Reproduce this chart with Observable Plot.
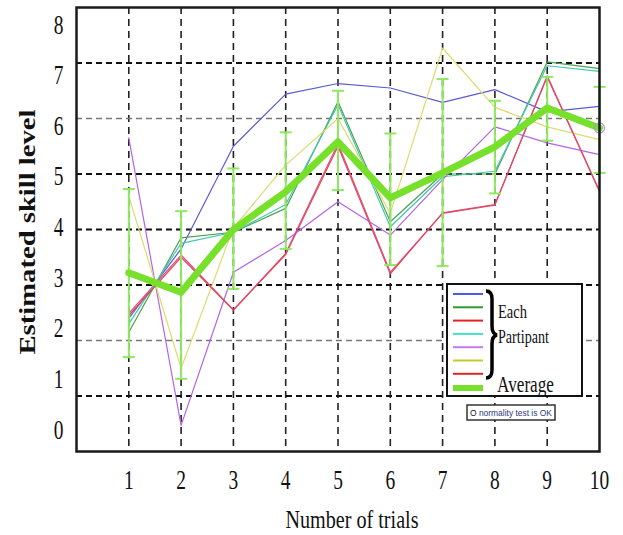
<!DOCTYPE html>
<html><head><meta charset="utf-8">
<script src="https://cdn.jsdelivr.net/npm/d3@7"></script>
<script src="https://cdn.jsdelivr.net/npm/@observablehq/plot@0.6"></script>
<style>
body{margin:0;background:#fff}
svg{font-family:"Liberation Serif","Times New Roman",serif}
</style>
</head><body><div id="chart"></div>
<script>
// ---- data ----
const trials = [1, 2, 3, 4, 5, 6, 7, 8, 9, 10];
const xTicks = [1, 2, 3, 4, 5, 6, 7, 8, 9, 10];
const yTicks = [0, 1, 2, 3, 4, 5, 6, 7, 8];
const xGrid = [1, 2, 3, 4, 5, 6, 7, 8, 9];
const yGridMajor = [1, 3, 4, 5, 7];
const yGridMinor = [2, 6];

const p1Blue   = [2.40, 3.65, 5.50, 6.44, 6.63, 6.55, 6.29, 6.52, 6.12, 6.22];
const p2Green  = [2.15, 3.85, 3.95, 4.38, 6.30, 4.14, 5.00, 5.00, 7.02, 6.90];
const p3Red    = [2.49, 3.54, 2.55, 3.57, 5.55, 3.23, 4.29, 4.44, 6.77, 4.68];
const p4Cyan   = [2.30, 3.75, 3.95, 4.45, 6.25, 4.05, 4.95, 5.05, 6.95, 6.85];
const p5Violet = [5.65, 0.47, 3.23, 3.80, 4.50, 3.90, 4.90, 5.85, 5.56, 5.35];
const p6Yellow = [4.60, 1.50, 4.03, 5.16, 6.00, 4.29, 7.27, 6.20, 5.85, 5.62];
const p7Red    = [2.45, 3.50, 2.55, 3.55, 5.50, 3.20, 4.30, 4.45, 6.75, 4.70];

const average = [3.22, 2.87, 4.00, 4.68, 5.58, 4.57, 5.02, 5.49, 6.19, 5.83];
const errLo   = [1.70, 1.31, 2.93, 3.65, 4.71, 3.36, 3.34, 4.65, 5.60, 5.02];
const errHi   = [4.73, 4.33, 5.10, 5.75, 6.50, 5.73, 6.71, 6.32, 6.75, 6.57];

const seriesNames  = ["P1", "P2", "P3", "P4", "P5", "P6", "P7"];
const seriesValues = [p1Blue, p2Green, p3Red, p4Cyan, p5Violet, p6Yellow, p7Red];
const lineColors   = ["#5b5bd6", "#4f9f4f", "#e0507a", "#40c8b0", "#b464e6", "#dcdc6e", "#e04860"];
const legendColors = ["#4b5de6", "#2f9a2f", "#e42424", "#45e0c8", "#c77ae8", "#c8c82a", "#e42424"];
const avgColor = "#76e02a";
const barColor = "#8ee860";

// ---- tables ----
const long = seriesNames.flatMap((s, k) => trials.map((t, i) => ({series: s, trial: t, value: seriesValues[k][i]})));
const avgTable = trials.map((t, i) => ({trial: t, avg: average[i], lo: errLo[i], hi: errHi[i]}));
const capSymbol = {draw(ctx, size) { const r = Math.sqrt(size / Math.PI); ctx.moveTo(-r, 0); ctx.lineTo(r, 0); }};

const chart = Plot.plot({
  width: 623, height: 535,
  marginLeft: 76, marginRight: 24, marginTop: 7, marginBottom: 84,
  style: {fontFamily: '"Liberation Serif","Times New Roman",serif', fontSize: "27px", background: "#fff", color: "#111", overflow: "visible"},
  x: {domain: [0, 10], ticks: xTicks, tickSize: 0, tickPadding: 18, label: null},
  y: {domain: [0, 8], ticks: yTicks, tickSize: 0, tickPadding: 13, label: null},
  color: {domain: seriesNames, range: lineColors},
  marks: [
    Plot.ruleX(xGrid, {stroke: "#222", strokeWidth: 1.6, strokeDasharray: "7,5"}),
    Plot.ruleY(yGridMajor, {stroke: "#111", strokeWidth: 2, strokeDasharray: "6,4"}),
    Plot.ruleY(yGridMinor, {stroke: "#777", strokeWidth: 1.3, strokeDasharray: "6,4"}),
    Plot.line(long, {x: "trial", y: "value", z: "series", stroke: "series", strokeWidth: 1.2}),
    Plot.ruleX(avgTable, {x: "trial", y1: "lo", y2: "hi", stroke: barColor, strokeWidth: 2}),
    Plot.dot(avgTable, {x: "trial", y: "lo", symbol: capSymbol, r: 6, stroke: barColor, strokeWidth: 2}),
    Plot.dot(avgTable, {x: "trial", y: "hi", symbol: capSymbol, r: 6, stroke: barColor, strokeWidth: 2}),
    Plot.line(avgTable, {x: "trial", y: "avg", stroke: avgColor, strokeWidth: 7}),
    Plot.dot(avgTable.slice(-1), {x: "trial", y: "avg", r: 5, stroke: "#b48ce0", fill: "none", strokeWidth: 1.2}),
    Plot.frame({stroke: "#1a1a1a", strokeWidth: 2.5})
  ]
});
document.getElementById("chart").appendChild(chart);

// condense tick labels like the (horizontally squeezed) original
const svg = d3.select(chart);
const plotLeft = 76;
// the original's y labels are spread a little tighter than the grid (pulled toward the middle)
const yMid = 206, ySpread = 0.912;
svg.selectAll("text").each(function() {
  const len = this.getComputedTextLength();
  this.setAttribute("textLength", (len * 0.72).toFixed(1));
  this.setAttribute("lengthAdjust", "spacingAndGlyphs");
  const box = this.getBBox();
  const ctm = this.getCTM();
  if (ctm && ctm.e + box.x < plotLeft) {
    const cy = ctm.f + box.y + box.height / 2;
    const off = (yMid + (cy - yMid) * ySpread) - cy;
    this.setAttribute("transform", (this.getAttribute("transform") || "") + ` translate(0,${off.toFixed(1)})`);
  }
});

// axis titles
svg.append("text")
  .attr("transform", "translate(35,232) rotate(-90)")
  .attr("text-anchor", "middle").attr("font-weight", "bold").attr("font-size", 24)
  .attr("textLength", 245).attr("lengthAdjust", "spacingAndGlyphs").attr("fill", "#111")
  .text("Estimated skill level");
svg.append("text")
  .attr("x", 352).attr("y", 528).attr("text-anchor", "middle").attr("font-size", 26)
  .attr("textLength", 133).attr("lengthAdjust", "spacingAndGlyphs").attr("fill", "#111")
  .text("Number of trials");

// legend
const lg = svg.append("g").attr("text-anchor", "start").attr("fill", "#111");
lg.append("rect").attr("x", 447).attr("y", 284).attr("width", 135).attr("height", 112)
  .attr("fill", "#fff").attr("stroke", "#111").attr("stroke-width", 2);
legendColors.forEach((c, i) => {
  lg.append("line").attr("x1", 453).attr("x2", 483).attr("y1", 294 + i * 13.3).attr("y2", 294 + i * 13.3)
    .attr("stroke", c).attr("stroke-width", 2);
});
lg.append("line").attr("x1", 453).attr("x2", 483).attr("y1", 388).attr("y2", 388)
  .attr("stroke", avgColor).attr("stroke-width", 6);
lg.append("path")
  .attr("d", "M486,291 Q492,291 492,299 L492,326 Q492,334 497,335 Q492,336 492,344 L492,370 Q492,378 486,378")
  .attr("fill", "none").attr("stroke", "#000").attr("stroke-width", 3.5);
lg.append("text").attr("x", 498).attr("y", 318).attr("font-size", 19)
  .attr("textLength", 29).attr("lengthAdjust", "spacingAndGlyphs").text("Each");
lg.append("text").attr("x", 498).attr("y", 343).attr("font-size", 18)
  .attr("textLength", 51).attr("lengthAdjust", "spacingAndGlyphs").text("Partipant");
lg.append("text").attr("x", 497).attr("y", 392).attr("font-size", 23)
  .attr("textLength", 57).attr("lengthAdjust", "spacingAndGlyphs").text("Average");

// normality note
lg.append("rect").attr("x", 467).attr("y", 405).attr("width", 88).attr("height", 15)
  .attr("fill", "#fff").attr("stroke", "#333").attr("stroke-width", 1.5);
const nt = lg.append("text").attr("x", 470).attr("y", 416).attr("font-size", 9)
  .attr("font-family", '"Liberation Sans",Arial,sans-serif')
  .attr("textLength", 82).attr("lengthAdjust", "spacingAndGlyphs");
nt.append("tspan").attr("fill", "#111").text("O ");
nt.append("tspan").attr("fill", "#2a3a80").text("normality test is OK");
</script>
</body></html>
